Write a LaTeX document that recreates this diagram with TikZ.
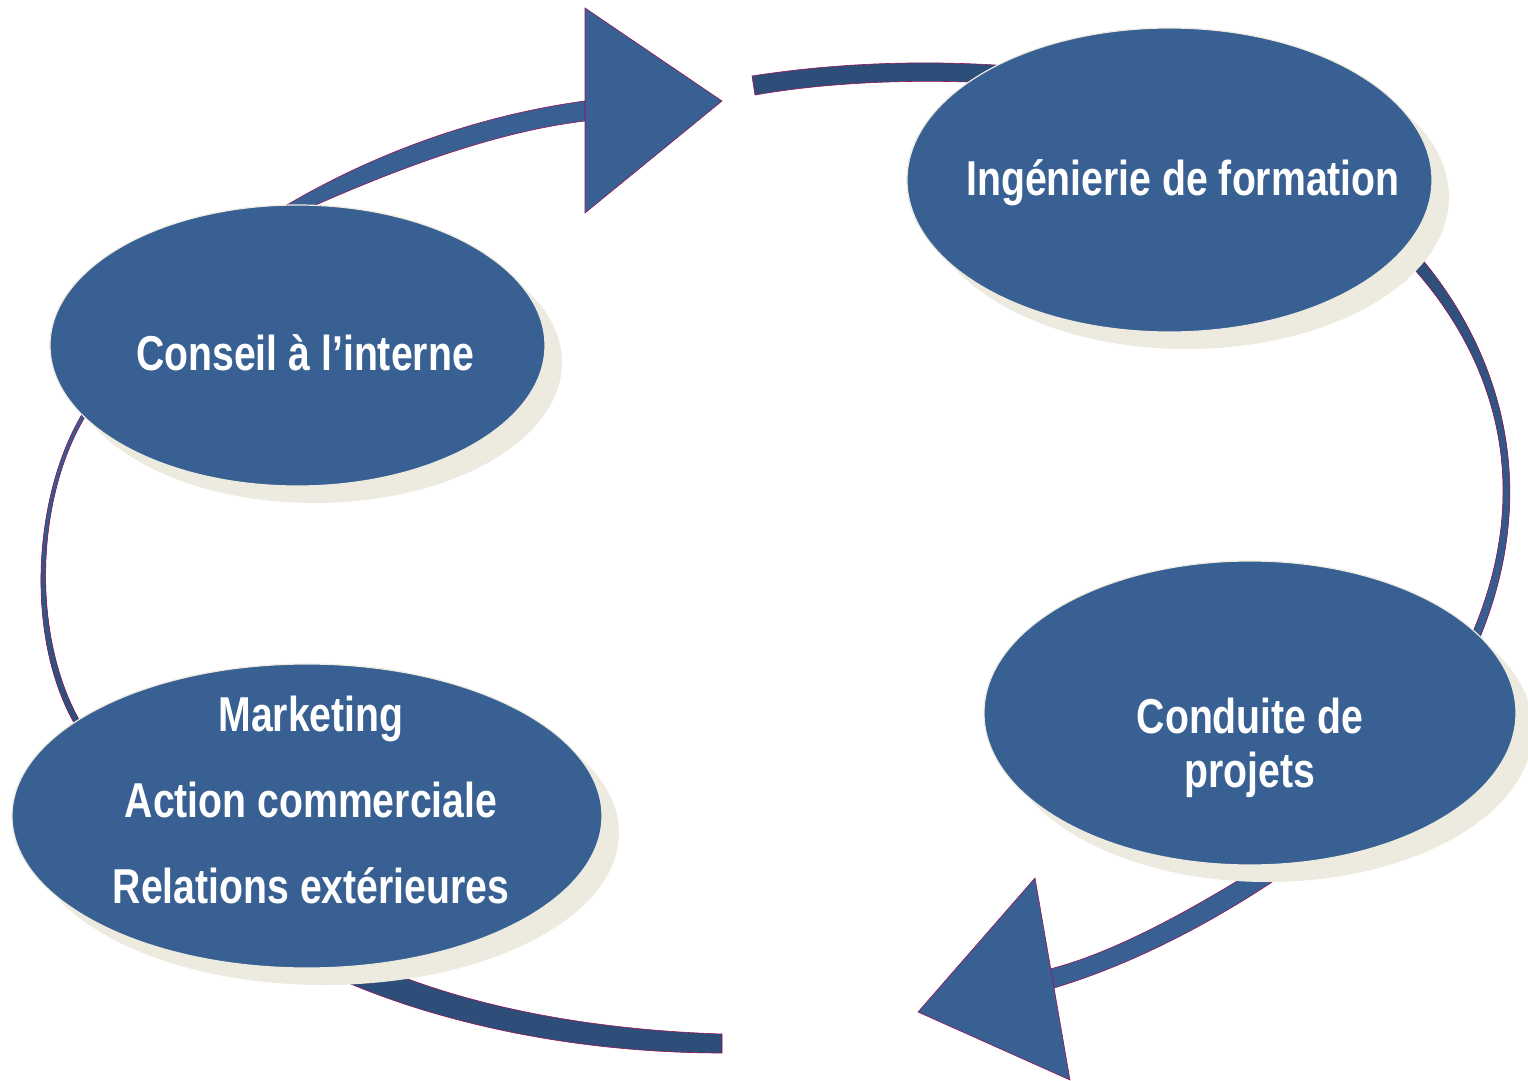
\documentclass[tikz,border=0pt]{standalone}
\usepackage{fontspec}
\newfontfamily\bubblefont[FakeStretch=0.8]{Liberation Sans}
\usetikzlibrary{shapes.geometric,shadows}
\definecolor{bubblefill}{RGB}{56,96,146}
\definecolor{ribbondark}{RGB}{45,78,120}
\definecolor{bubbleshade}{RGB}{237,235,224}
\definecolor{ribbonedge}{RGB}{150,20,90}
\tikzset{ribbon/.style={draw=ribbonedge, line width=0.3pt, fill=bubblefill},
  bubble/.style={ellipse, fill=bubblefill, draw=bubbleshade, line width=0.6pt, inner sep=0pt,
    drop shadow={shadow xshift=8.5pt, shadow yshift=-8.5pt, fill=bubbleshade, opacity=1}},
  caption/.style={text=white, anchor=base, inner sep=0pt, align=center,
    font=\bubblefont\bfseries\fontsize{24.5}{27}\selectfont}}

\begin{document}
\begin{tikzpicture}[x=0.5pt,y=-0.5pt]
   \useasboundingbox (0,0) rectangle (1528,1081);
   % the loop, drawn below the bubbles
   \path[ribbon] (250,228) .. controls (360,155) and (480,115) .. (585,101) --
         (585,121) .. controls (510,130) and (420,158) .. (300,212) -- cycle;
   \path[ribbon] (585,8) -- (722,101) -- (585,213) -- cycle;
   \path[ribbon, fill=ribbondark] (752,76) .. controls (810,67) and (900,58) .. (1010,66) --
         (1010,84) .. controls (900,77) and (812,85) .. (755,95) -- cycle;
   \path[ribbon, top color=ribbondark, bottom color=bubblefill]
         (1405,240) .. controls (1490,330) and (1555,480) .. (1470,660) --
         (1460,660) .. controls (1550,480) and (1485,336) .. (1392,246) -- cycle;
   \path[ribbon] (1054,988) .. controls (1130,965) and (1210,925) .. (1290,870) --
         (1255,870) .. controls (1175,920) and (1105,955) .. (1050,969) -- cycle;
   \path[ribbon] (1035,878) -- (918,1012) -- (1070,1080) -- cycle;
   \path[ribbon, fill=ribbondark] (722,1034) .. controls (600,1030) and (480,1010) .. (380,968) --
         (330,975) .. controls (440,1025) and (580,1053) .. (722,1053) -- cycle;
   \path[ribbon, top color=bubblefill, bottom color=ribbondark]
         (95,395) .. controls (30,480) and (20,650) .. (85,740) --
         (92,740) .. controls (26,650) and (32,480) .. (100,395) -- cycle;
   % the bubbles
   \node[bubble, minimum width=247.5pt, minimum height=140.5pt] (conseil) at (297.5,345.5) {};
   \node[bubble, minimum width=262.5pt, minimum height=152pt] (ingenierie) at (1169.5,180) {};
   \node[bubble, minimum width=266pt, minimum height=152pt] (conduite) at (1250,713) {};
   \node[bubble, minimum width=295pt, minimum height=152pt] (marketing) at (307,816) {};
   \node[caption] (conseil-txt) at (305,370) {Conseil à l’interne};
   \node[caption] (ingenierie-txt) at (1183,196) {Ingénierie de formation};
   \node[caption] (conduite-txt) at (1250,787) {Conduite de\\projets};
   \node[caption] (marketing-txt) at (311,903) {Marketing\\[16pt]Action commerciale\\[16pt]Relations extérieures};
\end{tikzpicture}
\end{document}
